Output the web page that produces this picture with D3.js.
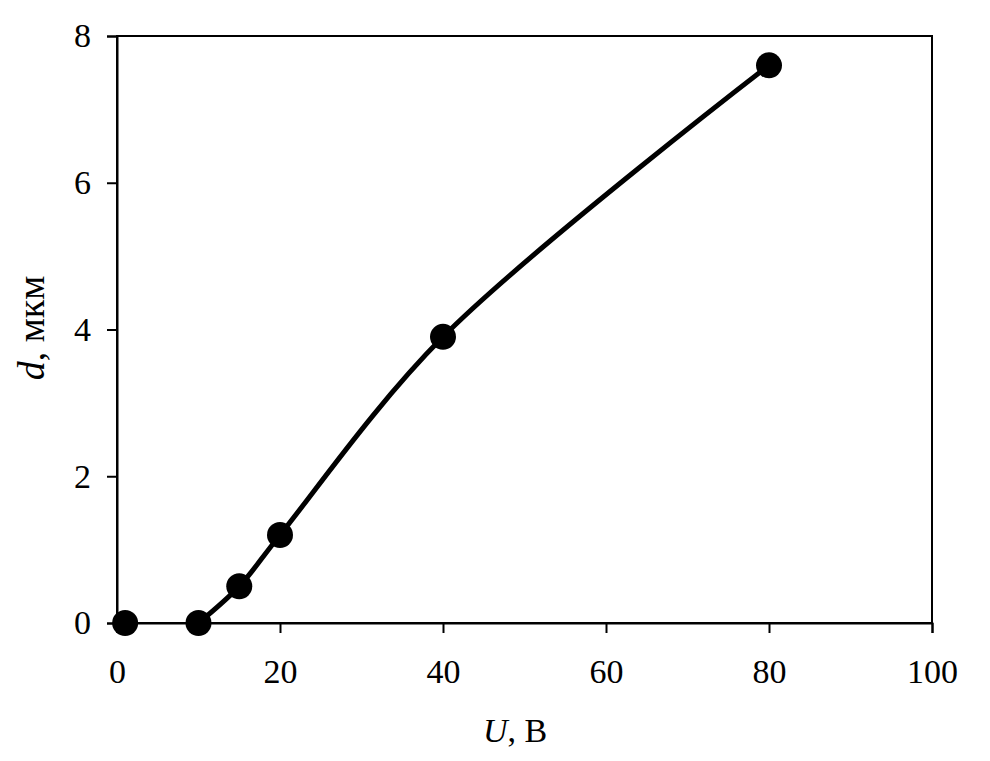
<!DOCTYPE html>
<html><head><meta charset="utf-8">
<script src="https://cdn.jsdelivr.net/npm/d3@7"></script>
<style>body{margin:0;background:#fff}svg{display:block}text{font-family:"Liberation Serif","Times New Roman",serif;fill:#000}</style>
</head><body>
<script>
const uValues = [1, 10, 15, 20, 40, 80];
const dValues = [0, 0, 0.5, 1.2, 3.9, 7.6];
const curveStartIndex = 1;
const xTicks = [0, 20, 40, 60, 80, 100];
const yTicks = [0, 2, 4, 6, 8];

const W = 990, H = 761;
const m = {left: 117, right: 58, top: 36, bottom: 138};
const svg = d3.select("body").append("svg").attr("width", W).attr("height", H);
const x = d3.scaleLinear().domain([0, 100]).range([m.left, W - m.right]);
const y = d3.scaleLinear().domain([0, 8]).range([H - m.bottom, m.top]);

svg.append("rect").attr("x", x(0)).attr("y", y(8)).attr("width", x(100) - x(0)).attr("height", y(0) - y(8))
  .attr("fill", "none").attr("stroke", "#000").attr("stroke-width", 2);

const xa = svg.append("g").attr("transform", `translate(0,${y(0)})`)
  .call(d3.axisBottom(x).tickValues(xTicks).tickSize(10).tickPadding(26).tickFormat(d3.format("d")));
const ya = svg.append("g").attr("transform", `translate(${x(0)},0)`)
  .call(d3.axisLeft(y).tickValues(yTicks).tickSize(10).tickPadding(16).tickFormat(d3.format("d")));
[xa, ya].forEach(a => {
  a.attr("font-size", 34).attr("font-family", "Liberation Serif");
  a.select(".domain").attr("stroke", "#000").attr("stroke-width", 2);
  a.selectAll(".tick line").attr("stroke", "#000").attr("stroke-width", 2);
  a.selectAll("text").attr("fill", "#000");
});

const pts = uValues.map((u, i) => [u, dValues[i]]);
const line = d3.line().x(d => x(d[0])).y(d => y(d[1])).curve(d3.curveCatmullRom.alpha(0.5));
svg.append("path").datum(pts.slice(curveStartIndex)).attr("d", line)
  .attr("fill", "none").attr("stroke", "#000").attr("stroke-width", 5);

svg.append("g").selectAll("circle").data(pts).join("circle")
  .attr("cx", d => x(d[0])).attr("cy", d => y(d[1])).attr("r", 13).attr("fill", "#000");

const xt = svg.append("text").attr("x", 515).attr("y", 742)
  .attr("text-anchor", "middle").attr("font-size", 34);
xt.append("tspan").attr("font-style", "italic").text("U");
xt.append("tspan").text(", В");

const yt = svg.append("text").attr("transform", `translate(44,328) rotate(-90)`)
  .attr("text-anchor", "middle").attr("font-size", 38);
yt.append("tspan").attr("font-style", "italic").text("d");
yt.append("tspan").text(", мкм");
</script>
</body></html>
